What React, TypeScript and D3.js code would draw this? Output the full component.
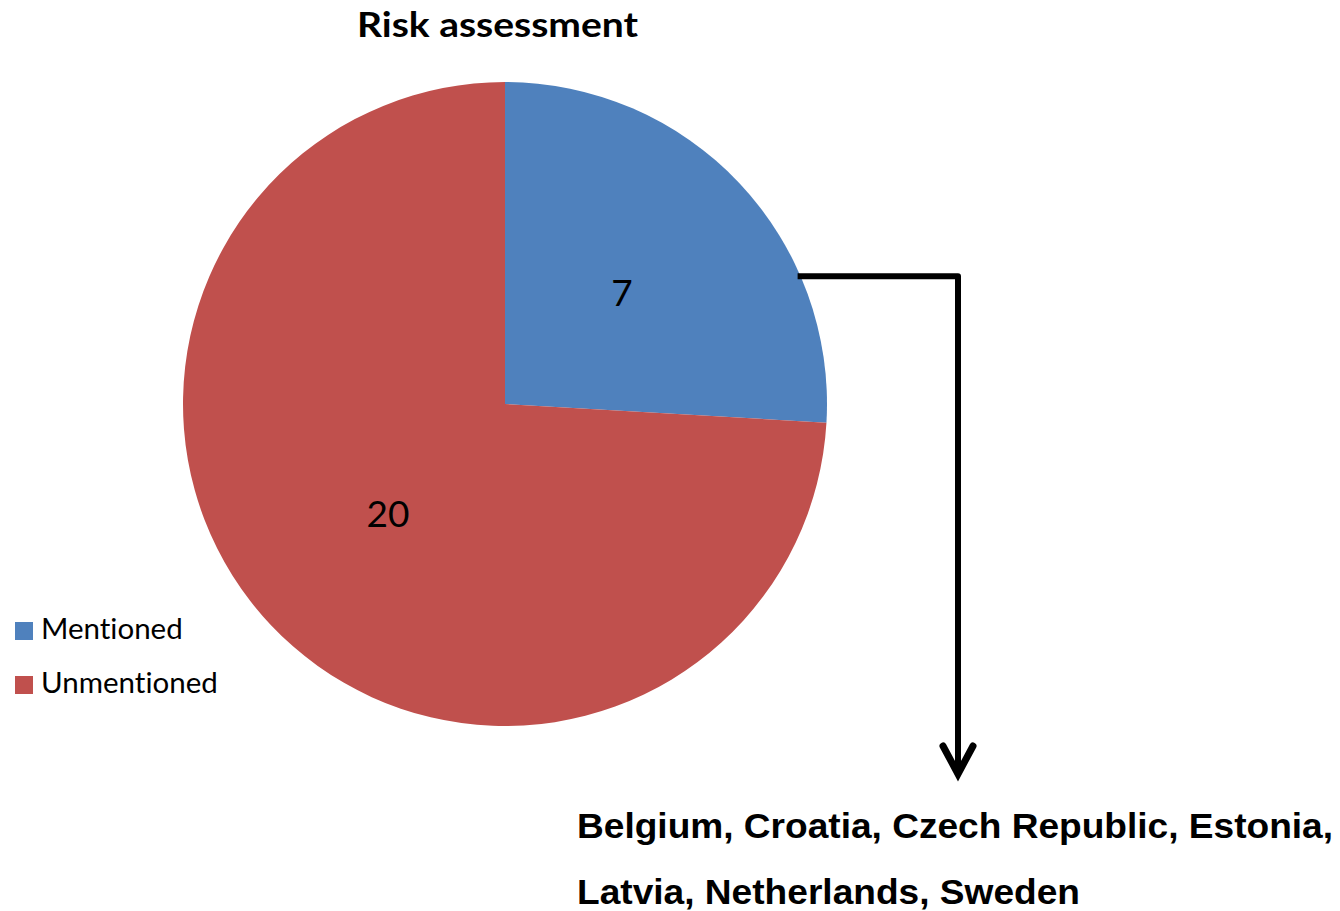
import * as d3 from "d3";
import { useRef, useEffect } from "react";

const categories = ["Mentioned", "Unmentioned"];
const counts = [7, 20];
const sliceColors = ["#4F81BD", "#C0504D"];
const chartTitle = "Risk assessment";
const countryLines = ["Belgium, Croatia, Czech Republic, Estonia,", "Latvia, Netherlands, Sweden"];

export default function App() {
    const ref = useRef<SVGSVGElement>(null);

    const width = 1340;
    const height = 911;
    const cx = 505;
    const cy = 404;
    const radius = 322;
    const bodyFont = "Lato, 'Open Sans', sans-serif";

    useEffect(() => {
        const svg = d3.select(ref.current);
        svg.selectAll("*").remove();

        const data = categories.map((c, i) => ({ name: c, value: counts[i] }));

        const pie = d3.pie<any>().value((d) => d.value).sort(null);
        const arcs = pie(data);
        const arc = d3.arc<any>().innerRadius(0).outerRadius(radius);

        // title
        svg.append("text")
            .attr("x", 357)
            .attr("y", 37)
            .attr("font-family", bodyFont)
            .attr("font-weight", "bold")
            .attr("font-size", 35)
            .attr("fill", "#000")
            .attr("textLength", 281)
            .attr("lengthAdjust", "spacingAndGlyphs")
            .text(chartTitle);

        const pieG = svg.append("g").attr("transform", `translate(${cx},${cy})`);

        pieG.selectAll("path")
            .data(arcs)
            .join("path")
            .attr("d", arc)
            .attr("fill", (d, i) => sliceColors[i]);

        pieG.selectAll("text")
            .data(arcs)
            .join("text")
            .attr("transform", (d) => `translate(${arc.centroid(d)})`)
            .attr("text-anchor", "middle")
            .attr("dy", "0.35em")
            .attr("font-family", bodyFont)
            .attr("font-size", 37)
            .attr("fill", "#000")
            .text((d) => d.data.value);

        // legend
        const legend = svg.append("g").attr("transform", "translate(15,622)");
        const item = legend.selectAll("g")
            .data(categories)
            .join("g")
            .attr("transform", (d, i) => `translate(0,${i * 54})`);
        item.append("rect")
            .attr("width", 18)
            .attr("height", 18)
            .attr("fill", (d, i) => sliceColors[i]);
        item.append("text")
            .attr("x", 26)
            .attr("y", 17)
            .attr("font-family", bodyFont)
            .attr("font-size", 29.5)
            .style("font-variant-ligatures", "none")
            .attr("fill", "#000")
            .text((d) => d);

        // connector arrow from the Mentioned slice
        const a = arcs[0].endAngle * 0.714;
        const startX = cx + radius * Math.sin(a);
        const startY = cy - radius * Math.cos(a);
        const turnX = 958;
        const tipY = 774;

        svg.append("path")
            .attr("d", `M${startX - 3},${startY} H${turnX} V${tipY - 4}`)
            .attr("fill", "none")
            .attr("stroke", "#000")
            .attr("stroke-width", 6)
            .attr("stroke-linejoin", "round");
        svg.append("path")
            .attr("d", `M${turnX - 15},${tipY - 28} L${turnX},${tipY} L${turnX + 15},${tipY - 28}`)
            .attr("fill", "none")
            .attr("stroke", "#000")
            .attr("stroke-width", 7)
            .attr("stroke-linecap", "round")
            .attr("stroke-linejoin", "miter");

        // country list
        svg.selectAll("text.country")
            .data(countryLines)
            .join("text")
            .attr("class", "country")
            .attr("x", 577)
            .attr("y", (d, i) => 838 + i * 66)
            .attr("font-family", "'Liberation Sans', Arial, sans-serif")
            .attr("font-weight", "bold")
            .attr("font-size", 35)
            .attr("fill", "#000")
            .attr("textLength", (d, i) => (i === 0 ? 756 : 503))
            .attr("lengthAdjust", "spacingAndGlyphs")
            .text((d) => d);
    }, []);

    return (
        <svg ref={ref} width={width} height={height} viewBox={`0 0 ${width} ${height}`}
            style={{ position: "absolute", left: 0, top: 0, background: "#fff" }} />
    );
}
